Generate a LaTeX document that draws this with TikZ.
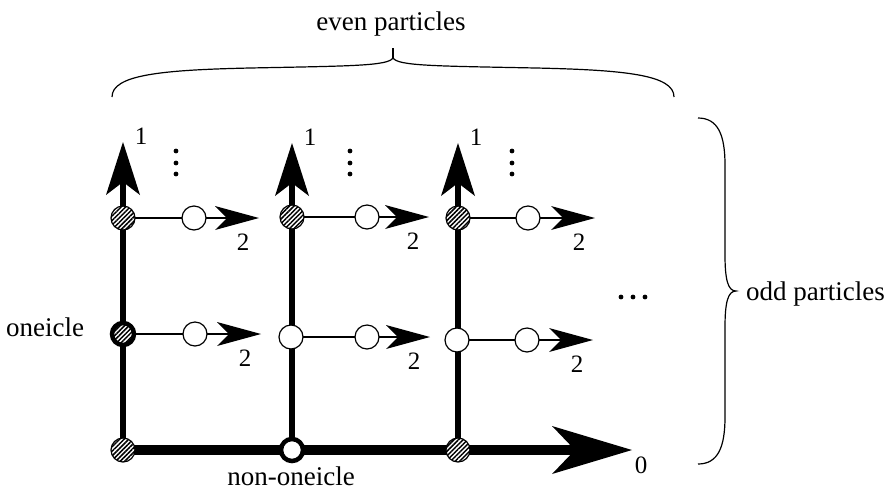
\documentclass[tikz,border=0pt]{standalone}
\usepackage{fontspec}
\setmainfont{Liberation Serif}
\usetikzlibrary{patterns.meta,backgrounds}
\begin{document}
\begin{tikzpicture}[x=1pt,y=-1pt,
  hatchcirc/.style={circle,draw,line width=1.2pt,minimum size=24pt,inner sep=0pt,
    preaction={fill=white},pattern={Lines[angle=45,distance=3.2pt,line width=1.5pt]}},
  thickhatch/.style={hatchcirc,line width=4.5pt,minimum size=22pt},
  opencirc/.style={circle,draw,fill=white,line width=1.2pt,minimum size=24pt,inner sep=0pt},
  thickopen/.style={opencirc,line width=4.5pt,minimum size=22pt},
  vline/.style={line width=6pt},
  hline/.style={line width=2.8pt},
  bline/.style={line width=10pt},
  brace/.style={line width=1.2pt},
  txt/.style={font=\fontsize{27}{30}\selectfont,inner sep=0pt},
  num/.style={font=\fontsize{25}{28}\selectfont,inner sep=0pt},
  dotc/.style={fill=black}
]
\useasboundingbox (0,0) rectangle (890,491);

% ---- circles (nodes) ----
\node[hatchcirc] (b1) at (123,450) {};
\node[thickopen] (b2) at (292,450) {};
\node[hatchcirc] (b3) at (458,450) {};
\coordinate (t0) at (632,450);

\node[hatchcirc]  (u1) at (123,218) {};
\node[thickhatch] (m1) at (123,334) {};
\node[opencirc] (ou1) at (194,218) {};
\node[opencirc] (om1) at (195,334) {};
\coordinate (v1) at (123,142);
\coordinate (hu1) at (259,218);
\coordinate (hm1) at (261,334);

\node[hatchcirc] (u2) at (292,217) {};
\node[opencirc]  (m2) at (291,337) {};
\node[opencirc] (ou2) at (367,217) {};
\node[opencirc] (om2) at (367,337) {};
\coordinate (v2) at (292,143);
\coordinate (hu2) at (429,217);
\coordinate (hm2) at (430,337);

\node[hatchcirc] (u3) at (458,218) {};
\node[opencirc]  (m3) at (457,340) {};
\node[opencirc] (ou3) at (528,218) {};
\node[opencirc] (om3) at (527,340) {};
\coordinate (v3) at (458,143);
\coordinate (hu3) at (595,218);
\coordinate (hm3) at (593,340);

% ---- lines behind the circles ----
\begin{scope}[on background layer]
  \draw[bline,shorten >=40pt] (b1.center) -- (t0);
  \draw[vline,shorten >=30pt] (b1.center) -- (v1);
  \draw[vline,shorten >=30pt] (b2.center) -- (v2);
  \draw[vline,shorten >=30pt] (b3.center) -- (v3);
  \draw[hline,shorten >=25pt] (u1.center) -- (hu1);
  \draw[hline,shorten >=25pt] (m1.center) -- (hm1);
  \draw[hline,shorten >=25pt] (u2.center) -- (hu2);
  \draw[hline,shorten >=25pt] (m2.center) -- (hm2);
  \draw[hline,shorten >=25pt] (u3.center) -- (hu3);
  \draw[hline,shorten >=25pt] (m3.center) -- (hm3);
\end{scope}

% ---- arrowheads ----
\foreach \v in {v1,v2,v3}
  \fill (\v) -- ++(17,53) -- ++(-17,-13) -- ++(-17,13) -- cycle;
\foreach \h in {hu1,hm1,hu2,hm2,hu3,hm3}
  \fill (\h) -- ++(-44,-12) -- ++(12,12) -- ++(-12,12) -- cycle;
\fill (t0) -- ++(-80,-24) -- ++(23,24) -- ++(-23,24) -- cycle;

% ---- labels ----
\foreach \v in {v1,v2,v3}
  \node[num] at ([xshift=18pt,yshift=6pt]\v) {1};
\foreach \h in {hu1,hm1,hu2,hm2,hu3,hm3}
  \node[num] at ([xshift=-16pt,yshift=-24pt]\h) {2};
\node[num] (zero) at (641,465) {0};

\node[txt,anchor=base] (one) at (45,336) {oneicle};
\node[txt,anchor=base] (non) at (291,485) {non-oneicle};
\node[txt,anchor=base] (even) at (391,30) {even particles};
\node[txt,anchor=base west] (odd) at (746,300) {odd particles};

% ---- dots ----
\foreach \x in {176,350,512}
  \foreach \y in {151,163,174}
    \fill[dotc] (\x,\y) circle (2.4pt);
\foreach \x in {621,633,645}
  \fill[dotc] (\x,297) circle (2.4pt);

% ---- braces ----
\draw[brace] (112,97) .. controls (112,75) and (160,70) .. (250,68)
  .. controls (350,66) and (388,66) .. (393,58)
  .. controls (398,66) and (436,66) .. (536,68)
  .. controls (626,70) and (674,75) .. (674,97);
\draw[brace] (393,58) -- (393,48);

\draw[brace] (698,118) .. controls (718,118) and (725,135) .. (725,165)
  -- (725,255) .. controls (725,280) and (728,291) .. (736,291)
  .. controls (728,291) and (725,302) .. (725,327)
  -- (725,417) .. controls (725,447) and (718,464) .. (698,464);
\end{tikzpicture}
\end{document}
